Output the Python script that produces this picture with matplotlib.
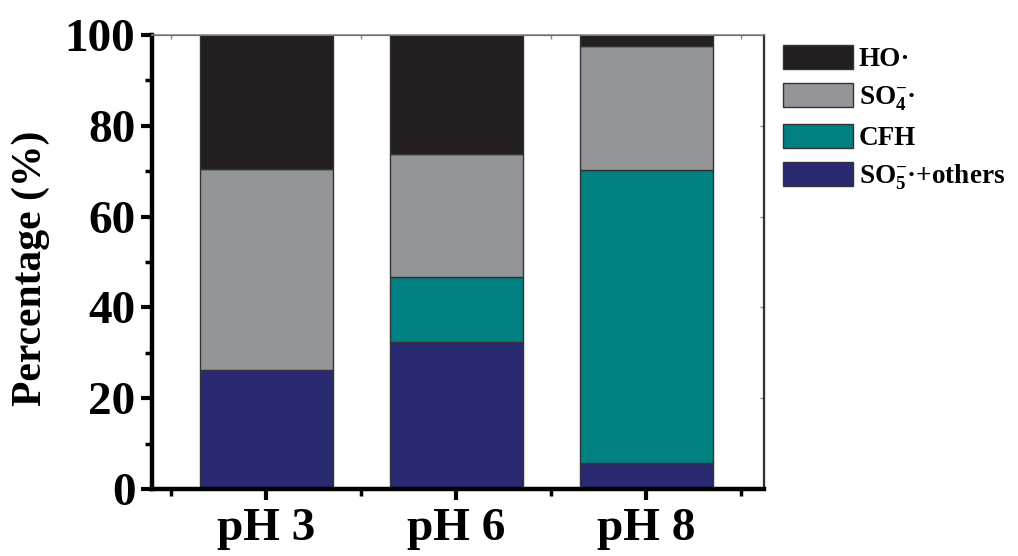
import matplotlib.pyplot as plt
from matplotlib.ticker import MultipleLocator

plt.rcParams['font.family'] = 'Liberation Serif'
plt.rcParams['font.weight'] = 'bold'
plt.rcParams['mathtext.fontset'] = 'custom'
plt.rcParams['mathtext.rm'] = 'Liberation Serif:bold'
plt.rcParams['mathtext.it'] = 'Liberation Serif:bold'
plt.rcParams['mathtext.bf'] = 'Liberation Serif:bold'

labels = ["pH 3", "pH 6", "pH 8"]
so5_others = [26.2, 32.4, 5.7]
cfh = [0.0, 14.3, 64.6]
so4 = [44.3, 27.1, 27.3]
ho = [29.5, 26.2, 2.4]

series = ["HO\u00b7", "SO$_4^{-}$\u00b7", "CFH", "SO$_5^{-}$\u00b7+others"]
colors = ["#231f20", "#939598", "#008080", "#2a2a72"]

fig = plt.figure(figsize=(10.18, 5.56), dpi=100)
ax = fig.add_axes([152 / 1018, 1 - 489 / 556, (764 - 152) / 1018, (489 - 35) / 556])

x = [1, 2, 3]
w = 0.7
bottoms = [0, 0, 0]
stack = [so5_others, cfh, so4, ho]
stack_colors = colors[::-1]
stack_names = series[::-1]
handles = {}
for vals, col, name in zip(stack, stack_colors, stack_names):
    b = ax.bar(x, vals, w, bottom=bottoms, color=col, edgecolor="#333333", linewidth=1.0)
    handles[name] = b
    bottoms = [bo + v for bo, v in zip(bottoms, vals)]

ax.set_xlim(0.4, 3.62)
ax.set_ylim(0, 100)
ax.set_xticks(x)
ax.set_xticklabels(labels)
ax.set_xticks([0.5, 1.5, 2.5, 3.5], minor=True)
ax.yaxis.set_major_locator(MultipleLocator(20))
ax.yaxis.set_minor_locator(MultipleLocator(10))
ax.tick_params(axis="both", which="major", direction="out", length=8, width=3,
               labelsize=34, pad=4)
ax.tick_params(axis="both", which="minor", direction="out", length=5, width=2.5)
ax.tick_params(axis="x", which="major", pad=6)
ax.set_ylabel("Percentage (%)", fontsize=30, fontweight="bold")
ax.yaxis.set_label_coords(-0.167, 0.485)

ax.spines["left"].set_linewidth(3.2)
ax.spines["bottom"].set_linewidth(3.2)
ax.spines["top"].set_linewidth(1.2)
ax.spines["top"].set_color("#888888")
ax.spines["right"].set_linewidth(1.6)
ax.spines["right"].set_color("#333333")

sec_x = ax.secondary_xaxis("top")
sec_x.set_xticks(x)
sec_x.set_xticks([0.5, 1.5, 2.5, 3.5], minor=True)
sec_x.tick_params(which="both", direction="in", length=3, width=1, colors="#888888",
                  labeltop=False)
sec_y = ax.secondary_yaxis("right")
sec_y.set_yticks([0, 20, 40, 60, 80, 100])
sec_y.tick_params(direction="in", length=3, width=1, colors="#888888", labelright=False)

fig.legend([handles[n] for n in series], series, loc="upper left",
           bbox_to_anchor=(772 / 1018, 1 - 34 / 556), frameon=False,
           fontsize=19.5, handlelength=2.6, handleheight=1.0, handletextpad=0.2,
           labelspacing=0.4, borderaxespad=0)

fig.savefig("out.png", dpi=100)
plt.close(fig)
